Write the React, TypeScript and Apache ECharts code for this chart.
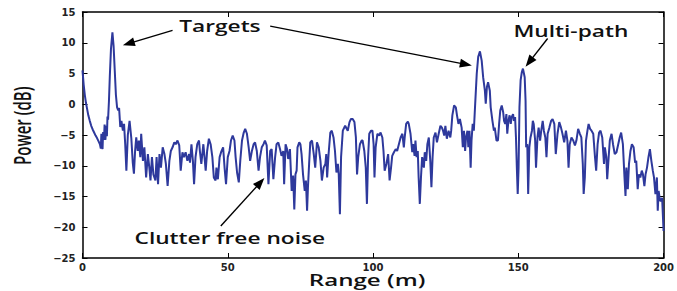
import React, { useEffect, useRef } from "react";
import * as echarts from "echarts";

// Range (m) samples
const rangeM = [
  0, 0.4, 0.8, 1.2, 1.6, 2.0, 2.5, 3.0, 3.5, 4.0, 4.5, 5.0, 5.5, 6.0, 6.3, 6.5, 6.7, 6.9, 7.1, 7.4, 7.6, 7.9, 8.1, 8.4, 8.6, 8.8,
  9.1, 9.4, 9.8, 10.3, 10.7, 11.1, 11.5, 11.9, 12.3, 12.6, 13.0, 13.4, 13.9, 14.3, 14.7, 15.1, 15.6, 16.2, 16.8, 17.3, 17.7,
  18.1, 18.5, 19.0, 19.4, 19.9, 20.2, 20.8, 21.3, 21.9, 22.5, 23.0, 23.4, 23.9, 24.4, 25.1, 25.5, 26.0, 26.5, 27.0, 27.6,
  28.2, 28.7, 29.3, 29.9, 30.4, 31.0,
  31.6, 32.1, 32.7, 33.3, 33.8, 34.4, 34.9, 35.5, 36.1, 36.7, 37.0, 37.5, 38.0, 38.4, 38.9, 39.5, 40.1, 40.4, 40.9, 41.6,
  42.0, 42.4, 42.9, 43.5, 44.1, 44.7, 45.2, 45.8, 46.1, 46.6, 47.2, 47.7, 48.4, 48.9, 49.4, 50.0, 50.6, 51.1, 51.7, 52.3,
  52.7, 53.2, 53.8, 54.3, 54.9, 55.5, 56.0, 56.6, 57.2, 57.7, 58.3, 58.9, 59.4, 60.0, 60.6, 61.1, 61.7, 62.3, 62.8, 63.4,
  64.0, 64.6, 65.1, 65.7, 66.3, 66.8, 67.4, 68.0, 68.5, 69.1, 69.4, 69.9, 70.4, 70.8, 71.4, 72.0, 72.5, 72.9, 73.3, 73.7,
  74.0, 74.6, 75.0, 75.4, 75.9, 76.5, 76.9, 77.3, 77.6, 78.0, 78.4, 79.0, 79.6, 80.1, 80.7, 81.3, 81.9, 82.4, 83.0, 83.6,
  83.9, 84.2, 84.7, 85.3, 85.8, 86.4, 86.9, 87.4, 87.9, 88.2, 88.6, 89.0, 89.6, 90.4, 91.3, 91.9, 92.4, 93.0, 93.6, 94.1,
  94.5, 94.9, 95.5, 96.1,
  96.4, 97.0, 97.5, 97.9, 98.3, 98.7, 99.3, 99.8, 100.2, 100.5, 100.9, 101.5, 102.1, 102.6, 103.2, 103.6, 104.0, 104.6,
  105.2, 105.7, 106.2, 106.6, 107.2, 107.8, 108.3, 108.9, 109.5, 110.1, 110.6, 110.9, 111.4, 112.0, 112.3, 112.9, 113.5,
  113.8, 114.3, 114.6, 115.0, 115.4, 115.7, 116.1, 116.5, 116.9, 117.5, 117.8, 118.3, 118.7, 119.2, 119.7, 120.1, 120.5,
  120.9, 121.5, 122.0, 122.6, 123.2, 123.7, 124.1, 124.5, 124.9, 125.4, 126.0, 126.6, 126.9, 127.3, 127.9, 128.5, 128.9,
  129.4, 129.9,
  130.5, 130.9, 131.3, 131.7, 132.0, 132.5, 132.8, 133.2, 133.6, 133.9, 134.3, 134.7, 135.1, 135.7, 136.2, 136.8, 137.4,
  137.9, 138.5, 138.8, 139.2, 139.6, 140.2, 140.5, 141.1, 141.6, 141.9, 142.5, 143.0, 143.4, 143.8, 144.3, 144.8, 145.1,
  145.5, 145.9, 146.2, 146.6, 147.0, 147.4, 147.7, 148.2, 148.5, 148.9, 149.2, 149.5, 149.8, 150.1, 150.4, 150.8, 151.2,
  151.6, 152.2, 152.5, 152.7, 153.1, 153.4, 153.8, 154.2, 154.7, 155.0, 155.3, 155.8, 156.1, 156.6, 157.0, 157.5, 157.9,
  158.4, 158.8, 159.3, 159.7, 160.1, 160.7,
  161.3, 161.8, 162.4, 162.9, 163.5, 164.1, 164.7, 165.2, 165.8, 166.4, 166.9, 167.3, 167.7, 168.3, 168.9, 169.5, 170.0,
  170.6, 171.2, 171.7, 172.2, 172.5, 172.9, 173.3, 173.8, 174.2, 174.7, 175.2, 175.8, 176.4, 176.8, 177.3, 177.8, 178.3,
  178.9, 179.5, 179.8, 180.3, 180.6, 181.1, 181.5, 182.1, 182.6, 183.2, 183.8, 184.4, 184.9, 185.4, 186.0, 186.5, 186.9,
  187.2, 187.7, 188.1, 188.6, 189.1, 189.7, 190.2, 190.6, 191.1, 191.5, 192.0, 192.5, 192.9, 193.4, 193.8, 194.3, 194.8,
  195.3, 195.8, 196.3, 196.7, 197.2, 197.7, 198.0, 198.3, 198.8, 199.1, 199.5, 200,
];

// Power (dB) at each range sample
const powerDb = [
  5.5, 3.2, 1.5, 0.2, -0.8, -1.8, -2.7, -3.5, -4.1, -4.6, -5.1, -5.5, -6.0, -6.5, -7.2, -4.8, -6.2, -7.3, -4.5, -5.8, -3.3, -5.8, -3.5, -5.2, -2.0, -2.5,
  0.5, 4.5, 9.0, 11.7, 9.5, 5.5, 1.5, -0.5, -1.0, -0.6, -3.7, -2.7, -4.3, -3.2, -6.5, -10.8, -5.0, -2.7, -5.5, -9.5, -11.3,
  -7.6, -5.4, -7.6, -5.9, -8.6, -4.8, -9.2, -7.0, -11.9, -8.1, -10.3, -12.4, -8.6, -11.4, -12.4, -8.6, -13.0, -8.1, -10.3, -7.0,
  -8.1, -9.7, -13.3, -9.2, -7.6, -7.0,
  -6.2, -6.5, -5.9, -6.7, -10.8, -7.8, -8.6, -7.8, -9.2, -8.1, -9.5, -6.5, -9.2, -13.0, -8.6, -6.5, -5.9, -7.6, -9.7, -6.5,
  -8.6, -10.8, -7.6, -5.6, -6.5, -8.6, -11.9, -12.4, -10.3, -12.2, -8.6, -7.8, -7.0, -10.3, -13.0, -8.6, -7.6, -5.9, -5.1, -5.9,
  -8.6, -11.1, -12.7, -9.2, -5.9, -4.6, -4.0, -4.8, -7.0, -9.2, -7.6, -6.5, -6.2, -7.6, -10.8, -8.6, -7.0, -6.5, -5.9, -6.7,
  -13.0, -7.6, -7.3, -12.2, -8.6, -6.5, -6.2, -7.3, -8.4, -7.6, -13.0, -6.5, -7.3, -8.9, -7.3, -14.1, -11.6, -17.1, -11.4, -10.8,
  -7.0, -6.2, -6.5, -8.1, -11.4, -14.1, -12.4, -17.3, -13.5, -9.7, -6.2, -5.9, -8.1, -10.3, -6.2, -7.0, -9.2, -12.4, -10.3, -9.7,
  -8.1, -11.9, -8.1, -4.6, -4.3, -5.4, -7.6, -11.1, -9.7, -11.4, -17.9, -8.6, -4.3, -3.5, -4.3, -2.9, -2.4, -2.4, -2.9, -5.4,
  -11.4, -8.6, -6.5, -5.9,
  -5.9, -7.6, -10.3, -16.2, -8.6, -4.8, -4.3, -4.3, -6.5, -11.9, -7.0, -4.8, -5.1, -4.6, -5.4, -7.6, -10.8, -9.7,
  -8.1, -12.4, -10.3, -8.4, -7.8, -7.3, -7.6, -6.5, -5.4, -4.8, -7.0, -5.4, -3.2, -2.8, -3.2, -4.8, -7.8,
  -6.5, -8.4, -5.9, -8.6, -7.6, -11.9, -16.2, -11.9, -8.6, -10.3, -7.8, -9.2, -6.5, -5.4, -9.2, -13.5, -8.6,
  -5.4, -4.6, -6.2, -4.8, -3.5, -3.8, -4.3, -5.1, -3.5, -5.6, -4.3, -5.4, -4.3, -1.8, -0.2, -0.5, -1.8,
  -3.2, -2.4,
  -3.8, -7.0, -4.3, -7.6, -5.4, -4.3, -7.0, -4.3, -10.3, -5.9, -3.2, -4.3, -0.5, 5.0, 7.7, 8.6, 7.1,
  4.4, 2.2, 0.1, 2.8, 3.6, 2.2, -0.5, -2.7, -4.3, -3.8, -5.9, -5.9, -3.2, -1.0, -0.2, -1.3, -2.7,
  -3.2, -1.6, -4.8, -2.7, -1.8, -3.2, -2.1, -1.6, -2.7, -2.1, -5.4, -10.3, -14.6, -10.3, -0.5, 3.9, 5.2,
  5.8, 4.4, 0.6, -7.0, -6.5, -14.6, -7.0, -5.4, -4.3, -2.7, -3.2, -5.9, -10.3, -5.4, -3.8, -5.9, -4.3,
  -2.7, -4.3, -5.4, -8.6, -4.8, -3.8,
  -2.7, -2.4, -3.2, -8.1, -4.8, -2.9, -3.8, -4.8, -6.2, -4.3, -5.9, -10.3, -6.5, -5.4, -5.9, -6.7, -5.9,
  -4.0, -4.8, -5.4, -9.7, -14.6, -11.9, -5.9, -4.3, -3.2, -4.0, -4.3, -4.8, -8.6, -10.8, -6.5, -4.6, -4.3,
  -5.4, -9.7, -7.0, -8.6, -12.2, -8.6, -5.9, -4.8, -6.5, -8.1, -7.8, -6.5, -5.4, -4.6, -6.5, -11.4, -14.9,
  -10.3, -13.8, -9.7, -7.6, -6.5, -7.0, -9.5, -9.2, -13.8, -11.4, -11.9, -10.8, -11.4, -13.3, -11.4, -10.3, -8.6,
  -7.3, -9.2, -10.8, -11.9, -14.6, -11.9, -17.3, -14.1, -15.7, -15.7, -15.2, -20.6,
];

const xMin = 0;
const xMax = 200;
const xStep = 50;
const yMin = -25;
const yMax = 15;
const yStep = 5;

const xTitle = "Range (m)";
const yTitle = "Power (dB)";

// annotation anchors in data coordinates [range, dB]
const annotationTexts = ["Targets", "Multi-path", "Clutter free noise"];
const annotationAt = [
  [47.3, 12.8],
  [168.1, 11.9],
  [50.7, -21.7],
];
// arrows: tails and tips in data coordinates [range, dB]
const arrowTails = [
  [31.0, 12.0],
  [64.6, 12.7],
  [160.1, 10.7],
  [47.6, -19.8],
];
const arrowTips = [
  [13.9, 9.6],
  [134.0, 6.3],
  [152.5, 6.1],
  [62.6, -12.0],
];

const fmtY = (v: number) => (v < 0 ? "\u2212" + Math.abs(v) : String(v));

export default function App() {
  const ref = useRef<HTMLDivElement>(null);
  useEffect(() => {
    if (!ref.current) return;
    const chart = echarts.init(ref.current, null, { renderer: "svg" });
    const axisCommon = {
      type: "value" as const,
      axisLine: { show: true, onZero: false, lineStyle: { color: "#000", width: 1.5 } },
      axisTick: { show: true, inside: true, length: 5, lineStyle: { color: "#000", width: 1 } },
      splitLine: { show: false },
    };
    const labelStyle = { fontFamily: "DejaVu Sans", fontSize: 10, fontWeight: "bold" as const, color: "#222" };
    chart.setOption({
      animation: false,
      backgroundColor: "#fff",
      grid: { left: 82.5, right: 8.5, top: 12, bottom: 33, containLabel: false },
      xAxis: [
        { ...axisCommon, position: "bottom", min: xMin, max: xMax, interval: xStep,
          axisLabel: { ...labelStyle, margin: 4 } },
        { ...axisCommon, position: "top", min: xMin, max: xMax, interval: xStep, axisLabel: { show: false } },
      ],
      yAxis: [
        { ...axisCommon, position: "left", min: yMin, max: yMax, interval: yStep,
          axisLabel: { ...labelStyle, margin: 7, formatter: fmtY } },
        { ...axisCommon, position: "right", min: yMin, max: yMax, interval: yStep, axisLabel: { show: false } },
      ],
      series: [
        {
          type: "line",
          xAxisIndex: 0,
          yAxisIndex: 0,
          data: rangeM.map((x, i) => [x, powerDb[i]]),
          showSymbol: false,
          symbol: "none",
          lineStyle: { color: "#2e399c", width: 2 },
          z: 3,
        },
      ],
    });

    const toPx = (p: number[]) => chart.convertToPixel({ gridIndex: 0 }, p) as number[];
    const graphics: any[] = [];
    const stretch = 1.42;
    const textFont = '"Open Sans", "Noto Sans", sans-serif';
    annotationTexts.forEach((t, i) => {
      const [x, y] = toPx(annotationAt[i]);
      graphics.push({
        type: "text", x, y, scaleX: stretch, z: 10,
        style: { text: t, fontFamily: textFont, fontSize: 16, fontWeight: 600, fill: "#111",
          textAlign: "center", textVerticalAlign: "middle", align: "center", verticalAlign: "middle" },
      });
    });
    arrowTips.forEach((tipD, i) => {
      const [sx, sy] = toPx(arrowTails[i]);
      const [tx, ty] = toPx(tipD);
      const dx = tx - sx, dy = ty - sy;
      const len = Math.hypot(dx, dy);
      const ux = dx / len, uy = dy / len;
      const L = 12, W = 4.5;
      const bx = tx - ux * L, by = ty - uy * L;
      const nx = -uy, ny = ux;
      graphics.push({
        type: "line", z: 10,
        shape: { x1: sx, y1: sy, x2: bx + ux * 2, y2: by + uy * 2 },
        style: { stroke: "#000", lineWidth: 1.4 },
      });
      graphics.push({
        type: "polygon", z: 10,
        shape: { points: [[tx, ty], [bx + nx * W, by + ny * W], [bx - nx * W, by - ny * W]] },
        style: { fill: "#000" },
      });
    });
    // axis titles
    const [cx] = toPx([(xMin + xMax) / 2, yMin]);
    graphics.push({
      type: "text", x: cx - 6, y: 279, scaleX: stretch, z: 10,
      style: { text: xTitle, fontFamily: textFont, fontSize: 17, fontWeight: 600, fill: "#111",
        textAlign: "center", textVerticalAlign: "middle", align: "center", verticalAlign: "middle" },
    });
    const [, cy] = toPx([xMin, (yMin + yMax) / 2 + 1.5]);
    graphics.push({
      type: "text", x: 23, y: cy, rotation: Math.PI / 2, scaleY: 1.5, z: 10,
      style: { text: yTitle, fontFamily: textFont, fontSize: 15, fontWeight: 600, fill: "#111",
        textAlign: "center", textVerticalAlign: "middle", align: "center", verticalAlign: "middle" },
    });
    chart.setOption({ graphic: graphics });
    return () => chart.dispose();
  }, []);
  return (
    <div
      ref={ref}
      style={{ position: "fixed", left: 0, top: 0, width: 677, height: 291, background: "#fff" }}
    />
  );
}
